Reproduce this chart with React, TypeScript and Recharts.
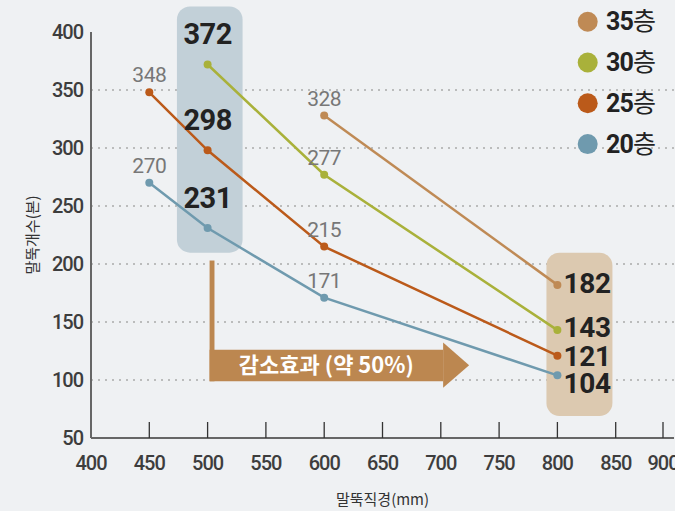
import React from "react";
import {
  LineChart,
  Line,
  XAxis,
  YAxis,
  CartesianGrid,
  ReferenceArea,
  LabelList,
  Legend,
} from "recharts";

// pile diameter (mm) / pile count per building height
const floors = ["35층", "30층", "25층", "20층"];
const diam35 = [600, 800];
const count35 = [328, 182];
const diam30 = [500, 600, 800];
const count30 = [372, 277, 143];
const diam25 = [450, 500, 600, 800];
const count25 = [348, 298, 215, 121];
const diam20 = [450, 500, 600, 800];
const count20 = [270, 231, 171, 104];

const xTicks = [400, 450, 500, 550, 600, 650, 700, 750, 800, 850, 900];
const yTicks = [50, 100, 150, 200, 250, 300, 350, 400];
const gridValues = [100, 150, 200, 250, 300, 350];

const arrowText = "감소효과 (약 50%)";

const colors = ["#bf8a55", "#a9b13a", "#bb5a1a", "#6f9aae"];
const endNudge = [-1, -3, 1, 8];

const KR = "'Noto Sans CJK KR', sans-serif";
const NUM = "Roboto, sans-serif";

const toRows = (xs: number[], ys: number[]) => xs.map((x, i) => ({ d: x, n: ys[i] }));
const series = [
  { name: floors[0], data: toRows(diam35, count35) },
  { name: floors[1], data: toRows(diam30, count30) },
  { name: floors[2], data: toRows(diam25, count25) },
  { name: floors[3], data: toRows(diam20, count20) },
];

const roundBox = (fill: string) => (p: any) => (
  <rect x={p.x} y={p.y} width={p.width} height={p.height} rx={13} ry={13} fill={fill} />
);

const arrowHead = (p: any) => (
  <polygon
    points={`${p.x},${p.y} ${p.x + p.width},${p.y + p.height / 2} ${p.x},${p.y + p.height}`}
    fill="#bc8750"
  />
);

const XTick = (p: any) => {
  const { x, y, payload } = p;
  return (
    <g>
      {payload.value !== 400 && (
        <line x1={x} x2={x} y1={y} y2={y - 16} stroke="#333" strokeWidth={1.3} />
      )}
      <text
        x={x}
        y={y + 32}
        textAnchor="middle"
        fill="#3d3d3d"
        fontSize={20}
        fontWeight={500}
        letterSpacing={-1}
        fontFamily={NUM}
      >
        {payload.value}
      </text>
    </g>
  );
};

const YTick = (p: any) => {
  const { x, y, payload } = p;
  return (
    <text
      x={x}
      y={y + 7}
      textAnchor="end"
      fill="#3d3d3d"
      fontSize={20}
      fontWeight={500}
      letterSpacing={-1}
      fontFamily={NUM}
    >
      {payload.value}
    </text>
  );
};

const pointLabel = (si: number) => (p: any) => {
  const { x, y, value, index } = p;
  const d = series[si].data[index].d;
  if (d === 500) {
    return (
      <text x={x} y={y - 30} textAnchor="middle" dominantBaseline="central" fontSize={29}
        fontWeight={700} fill="#222" fontFamily={NUM} letterSpacing={-0.5}>
        {value}
      </text>
    );
  }
  if (d === 800) {
    return (
      <text x={x + 6} y={y + endNudge[si]} textAnchor="start" dominantBaseline="central" fontSize={28}
        fontWeight={700} fill="#222" fontFamily={NUM} letterSpacing={-0.3}>
        {value}
      </text>
    );
  }
  return (
    <text x={x} y={y - 17} textAnchor="middle" dominantBaseline="central" fontSize={21}
      fill="#777" fontFamily={NUM} letterSpacing={-0.5}>
      {value}
    </text>
  );
};

const renderLegend = () => (
  <svg width={105} height={170}>
    {floors.map((f, i) => {
      const cy = 21.7 + i * 40.8;
      return (
        <g key={f}>
          <circle cx={17.7} cy={cy} r={10} fill={colors[i]} />
          <text x={36} y={cy + 8.5} fill="#222">
            <tspan fontFamily={NUM} fontWeight={700} fontSize={25} letterSpacing={-0.8}>
              {f.slice(0, 2)}
            </tspan>
            <tspan fontFamily={KR} fontSize={25}>{f.slice(2)}</tspan>
          </text>
        </g>
      );
    })}
  </svg>
);

export default function App() {
  return (
    <div
      style={{
        position: "absolute",
        left: 0,
        top: 0,
        width: 675,
        height: 511,
        background: "#eff1f3",
        fontFamily: NUM,
      }}
    >
      <LineChart width={675} height={511} margin={{ top: 32, right: 1, bottom: 0, left: 0 }}>
        <CartesianGrid
          horizontal
          vertical={false}
          horizontalValues={gridValues}
          stroke="#aaa"
          strokeWidth={1.5}
          strokeDasharray="2 5"
        />
        <XAxis
          type="number"
          dataKey="d"
          domain={[400, 900]}
          ticks={xTicks}
          allowDuplicatedCategory={false}
          height={73}
          tickSize={0}
          tickMargin={0}
          tickLine={false}
          tick={<XTick />}
          axisLine={{ stroke: "#666", strokeWidth: 2 }}
          label={{
            value: "말뚝직경(mm)",
            position: "insideBottom",
            offset: 6,
            fill: "#333",
            fontSize: 15,
            fontFamily: KR,
          }}
        />
        <YAxis
          type="number"
          domain={[50, 400]}
          ticks={yTicks}
          width={91}
          tickSize={0}
          tickMargin={8}
          tickLine={false}
          tick={<YTick />}
          axisLine={{ stroke: "#666", strokeWidth: 2 }}
          label={{
            value: "말뚝개수(본)",
            angle: -90,
            position: "insideLeft",
            offset: 33,
            style: { textAnchor: "middle" },
            fill: "#333",
            fontSize: 15,
            fontFamily: KR,
          }}
        />
        <ReferenceArea x1={473.7} x2={530} y1={209.8} y2={422} ifOverflow="visible" shape={roundBox("#c2d0d8")} />
        <ReferenceArea x1={790.6} x2={847.2} y1={69} y2={209.8} ifOverflow="visible" shape={roundBox("#dcc9b0")} />
        <ReferenceArea x1={501.7} x2={505.9} y1={98.9} y2={203} ifOverflow="visible" fill="#bc8750" fillOpacity={1} />
        <ReferenceArea
          x1={501.7}
          x2={702}
          y1={98.9}
          y2={126}
          ifOverflow="visible"
          fill="#bc8750"
          fillOpacity={1}
          label={{
            value: arrowText,
            position: "center",
            fill: "#fff",
            fontSize: 22,
            fontWeight: 700,
            fontFamily: KR,
          }}
        />
        <ReferenceArea x1={702} x2={724.3} y1={93.3} y2={132.3} ifOverflow="visible" shape={arrowHead} />
        {series.map((s, i) => (
          <Line
            key={s.name}
            name={s.name}
            data={s.data}
            dataKey="n"
            stroke={colors[i]}
            strokeWidth={2.5}
            dot={{ r: 4, fill: colors[i], stroke: "none" }}
            activeDot={false}
            isAnimationActive={false}
          >
            <LabelList dataKey="n" content={pointLabel(i)} />
          </Line>
        ))}
        <Legend
          layout="vertical"
          align="center"
          verticalAlign="middle"
          content={renderLegend}
          wrapperStyle={{ left: 570, top: 0, width: 105, height: 170 }}
        />
      </LineChart>
    </div>
  );
}
